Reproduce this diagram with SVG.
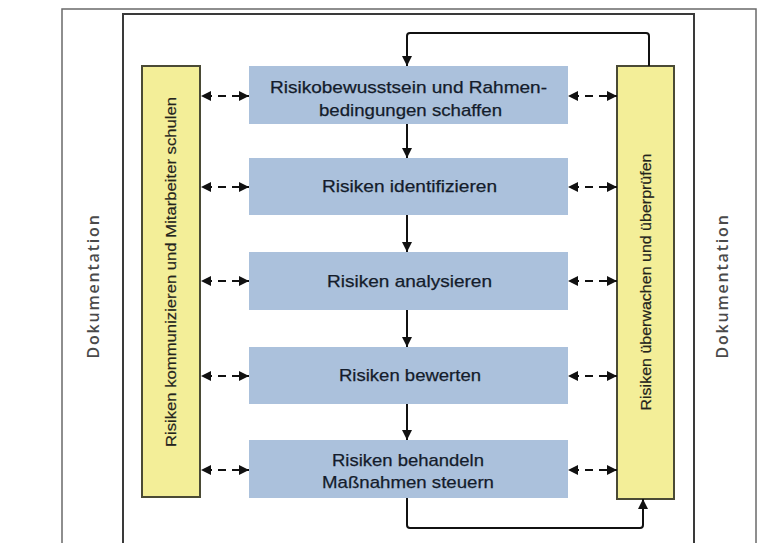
<svg xmlns="http://www.w3.org/2000/svg" width="765" height="543" viewBox="0 0 765 543">
<defs>
<style>
.frame-outer{fill:none;stroke:#6a6a6a;stroke-width:1.5}
.frame-inner{fill:none;stroke:#3a3a3a;stroke-width:2}
.step{fill:#abc1dc}
.side{fill:#f3ee98;stroke:#4a4a35;stroke-width:2}
.t{font-family:"Liberation Sans",Arial,sans-serif;font-size:17px;fill:#141c2b;text-anchor:middle;stroke:#141c2b;stroke-width:0.25px}
.ts{font-family:"Liberation Sans",Arial,sans-serif;font-size:15.5px;fill:#24241c;text-anchor:middle;stroke:#24241c;stroke-width:0.2px}
.doc{font-family:"Open Sans","DejaVu Sans",sans-serif;font-size:16px;font-weight:600;fill:#4a4a4a;text-anchor:middle;letter-spacing:1.8px}
.flow{fill:none;stroke:#111;stroke-width:2}
.dash{fill:none;stroke:#111;stroke-width:2;stroke-dasharray:8,6;stroke-dashoffset:-3}
</style>
<marker id="ah" viewBox="0 0 10 10" refX="10" refY="5" markerWidth="10" markerHeight="10" markerUnits="userSpaceOnUse" orient="auto">
<path d="M0,0 L10,5 L0,10 z" fill="#111"/>
</marker>
<marker id="ahs" viewBox="0 0 10 10" refX="0" refY="5" markerWidth="10" markerHeight="10" markerUnits="userSpaceOnUse" orient="auto">
<path d="M10,0 L0,5 L10,10 z" fill="#111"/>
</marker>
</defs>
<rect x="0" y="0" width="765" height="543" fill="#ffffff"/>
<g id="frames">
<rect class="frame-outer" x="62" y="9" width="694" height="560"/>
<rect class="frame-inner" x="123" y="14" width="571" height="560"/>
</g>
<g id="doc-left"><text class="doc" transform="translate(99,286) rotate(-90)">Dokumentation</text></g>
<g id="doc-right"><text class="doc" transform="translate(728,286) rotate(-90)">Dokumentation</text></g>
<g id="side-left">
<rect class="side" x="142" y="66" width="58" height="431"/>
<text class="ts" transform="translate(176,272) rotate(-90)" textLength="350" lengthAdjust="spacingAndGlyphs">Risiken kommunizieren und Mitarbeiter schulen</text>
</g>
<g id="side-right">
<rect class="side" x="617" y="66" width="57" height="433"/>
<text class="ts" transform="translate(651,282) rotate(-90)" textLength="257" lengthAdjust="spacingAndGlyphs">Risiken überwachen und überprüfen</text>
</g>
<g id="step1">
<rect class="step" x="249" y="66" width="319" height="58"/>
<text class="t" x="408.5" y="93" textLength="277" lengthAdjust="spacingAndGlyphs">Risikobewusstsein und Rahmen-</text>
<text class="t" x="410.5" y="116" textLength="183" lengthAdjust="spacingAndGlyphs">bedingungen schaffen</text>
</g>
<g id="step2">
<rect class="step" x="249" y="158" width="319" height="57"/>
<text class="t" x="409.5" y="192" textLength="175" lengthAdjust="spacingAndGlyphs">Risiken identifizieren</text>
</g>
<g id="step3">
<rect class="step" x="249" y="252" width="319" height="58"/>
<text class="t" x="409.5" y="287" textLength="165" lengthAdjust="spacingAndGlyphs">Risiken analysieren</text>
</g>
<g id="step4">
<rect class="step" x="249" y="347" width="319" height="57"/>
<text class="t" x="410" y="381" textLength="142" lengthAdjust="spacingAndGlyphs">Risiken bewerten</text>
</g>
<g id="step5">
<rect class="step" x="249" y="440" width="319" height="58"/>
<text class="t" x="408" y="466" textLength="152" lengthAdjust="spacingAndGlyphs">Risiken behandeln</text>
<text class="t" x="408" y="488" textLength="172" lengthAdjust="spacingAndGlyphs">Maßnahmen steuern</text>
</g>
<g id="connectors">
<path class="flow" d="M407,124 V158" marker-end="url(#ah)"/>
<path class="flow" d="M407,215 V252" marker-end="url(#ah)"/>
<path class="flow" d="M407,310 V347" marker-end="url(#ah)"/>
<path class="flow" d="M407,404 V440" marker-end="url(#ah)"/>
<path class="flow" d="M649,66 V36 Q649,33 646,33 H410 Q407,33 407,36 V66" marker-end="url(#ah)"/>
<path class="flow" d="M407,498 V525 Q407,528 410,528 H640 Q643,528 643,525 V499" marker-end="url(#ah)"/>
<path class="dash" d="M201,96 H249" marker-start="url(#ahs)" marker-end="url(#ah)"/>
<path class="dash" d="M201,187 H249" marker-start="url(#ahs)" marker-end="url(#ah)"/>
<path class="dash" d="M201,281 H249" marker-start="url(#ahs)" marker-end="url(#ah)"/>
<path class="dash" d="M201,376 H249" marker-start="url(#ahs)" marker-end="url(#ah)"/>
<path class="dash" d="M201,470 H249" marker-start="url(#ahs)" marker-end="url(#ah)"/>
<path class="dash" d="M568,96 H617" marker-start="url(#ahs)" marker-end="url(#ah)"/>
<path class="dash" d="M568,187 H617" marker-start="url(#ahs)" marker-end="url(#ah)"/>
<path class="dash" d="M568,281 H617" marker-start="url(#ahs)" marker-end="url(#ah)"/>
<path class="dash" d="M568,376 H617" marker-start="url(#ahs)" marker-end="url(#ah)"/>
<path class="dash" d="M568,470 H617" marker-start="url(#ahs)" marker-end="url(#ah)"/>
</g>
</svg>
